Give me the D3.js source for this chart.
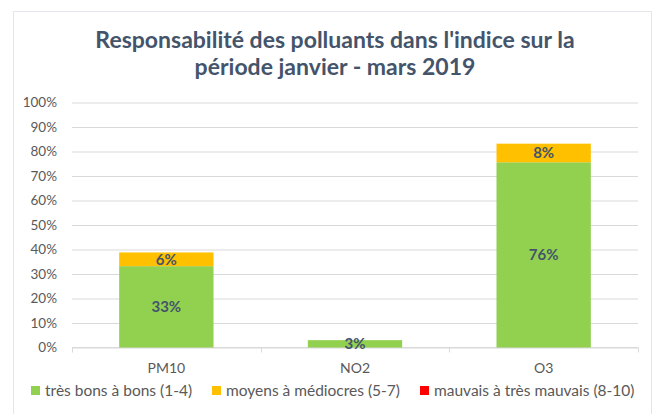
<!doctype html>
<html lang="fr">

<head>
    <meta charset="UTF-8">
    <title>Responsabilité des polluants</title>
    <style>
        body { margin: 0; background: #fff; }
        text { font-family: Lato, "Open Sans", sans-serif; }
    </style>
</head>

<body>
    <svg width="656" height="414"></svg>
    <script src="https://cdn.jsdelivr.net/npm/d3@7"></script>
    <script>
    var categories = ['PM10', 'NO2', 'O3'];
    var tresBons = [33.2, 3.0, 75.6];
    var moyens = [5.6, 0, 7.6];
    var mauvais = [0, 0, 0];
    var seriesNames = ['très bons à bons (1-4)', 'moyens à médiocres (5-7)', 'mauvais à très mauvais (8-10)'];
    var seriesColors = ['#92D050', '#FFC000', '#FF0000'];
    var yTicks = [0, 10, 20, 30, 40, 50, 60, 70, 80, 90, 100];
    var titleLines = ["Responsabilité des polluants dans l'indice sur la", 'période janvier - mars 2019'];

    var svg = d3.select('svg');

    // cadre du graphique
    svg.append('rect')
        .attr('x', 13.5).attr('y', 11.5)
        .attr('width', 638).attr('height', 420)
        .attr('fill', '#fff')
        .attr('stroke', '#E3E6EA');

    // titre
    svg.append('g').selectAll('text')
        .data(titleLines)
        .enter().append('text')
        .attr('x', 335)
        .attr('y', function(d, i) { return 48 + i * 27; })
        .attr('text-anchor', 'middle')
        .style('font-size', '23px')
        .style('font-weight', 'bold')
        .style('fill', '#44546A')
        .text(function(d) { return d; });

    var x = d3.scaleBand()
        .domain(categories)
        .range([72, 638])
        .paddingInner(0.5)
        .paddingOuter(0.25);
    var xAxisScale = d3.scaleBand().domain(categories).range([72, 638]);
    var y = d3.scaleLinear()
        .domain([0, 100])
        .range([347.5, 102.5]);

    // grille + axe y
    var yAxis = svg.append('g')
        .attr('transform', 'translate(72,0)')
        .call(d3.axisLeft(y).tickValues(yTicks).tickSize(-566)
            .tickFormat(function(d) { return d + '%'; }));
    yAxis.select('.domain').remove();
    yAxis.selectAll('.tick line').attr('stroke', '#D9D9D9');
    yAxis.selectAll('.tick text')
        .attr('x', -15)
        .style('font-size', '13.5px')
        .style('fill', '#595959')
        .style('font-family', 'Lato, sans-serif');

    // axe x
    var xAxis = svg.append('g')
        .attr('transform', 'translate(0,347.5)');
    xAxis.append('line')
        .attr('x1', 72).attr('x2', 638)
        .attr('stroke', '#D9D9D9');
    xAxis.selectAll('.sep')
        .data(categories.concat(['end']))
        .enter().append('line')
        .attr('x1', function(d, i) { return Math.round(72 + i * xAxisScale.bandwidth()) + 0.5; })
        .attr('x2', function(d, i) { return Math.round(72 + i * xAxisScale.bandwidth()) + 0.5; })
        .attr('y1', 0).attr('y2', 5)
        .attr('stroke', '#D9D9D9');
    xAxis.selectAll('.cat')
        .data(categories)
        .enter().append('text')
        .attr('x', function(d) { return xAxisScale(d) + xAxisScale.bandwidth() / 2; })
        .attr('y', 25)
        .attr('text-anchor', 'middle')
        .style('font-size', '14px')
        .style('fill', '#595959')
        .text(function(d) { return d; });

    // barres empilées
    var rows = categories.map(function(c, i) {
        return { cat: c, s0: tresBons[i], s1: moyens[i], s2: mauvais[i] };
    });
    var stack = d3.stack().keys(['s0', 's1', 's2'])(rows);

    var layers = svg.append('g').selectAll('g')
        .data(stack)
        .enter().append('g')
        .attr('fill', function(d, i) { return seriesColors[i]; });
    layers.selectAll('rect')
        .data(function(d) { return d.filter(function(p) { return p[1] - p[0] > 0; }); })
        .enter().append('rect')
        .attr('x', function(d) { return x(d.data.cat); })
        .attr('width', x.bandwidth())
        .attr('y', function(d) { return y(d[1]); })
        .attr('height', function(d) { return y(d[0]) - y(d[1]); });
    layers.selectAll('text')
        .data(function(d) { return d.filter(function(p) { return p[1] - p[0] > 0; }); })
        .enter().append('text')
        .attr('x', function(d) { return x(d.data.cat) + x.bandwidth() / 2; })
        .attr('y', function(d) { return (y(d[0]) + y(d[1])) / 2; })
        .attr('dy', '0.36em')
        .attr('text-anchor', 'middle')
        .style('font-size', '15px')
        .style('font-weight', 'bold')
        .style('fill', '#44546A')
        .text(function(d) { return Math.round(d[1] - d[0]) + '%'; });

    // légende
    var legendX = [31, 212, 420];
    var legend = svg.append('g').selectAll('g')
        .data(seriesNames)
        .enter().append('g')
        .attr('transform', function(d, i) { return 'translate(' + legendX[i] + ',386)'; });
    legend.append('rect')
        .attr('width', 9).attr('height', 9)
        .attr('fill', function(d, i) { return seriesColors[i]; });
    legend.append('text')
        .attr('x', 14).attr('y', 9.5)
        .style('font-size', '15.5px')
        .style('fill', '#595959')
        .text(function(d) { return d; });
    </script>
</body>

</html>
